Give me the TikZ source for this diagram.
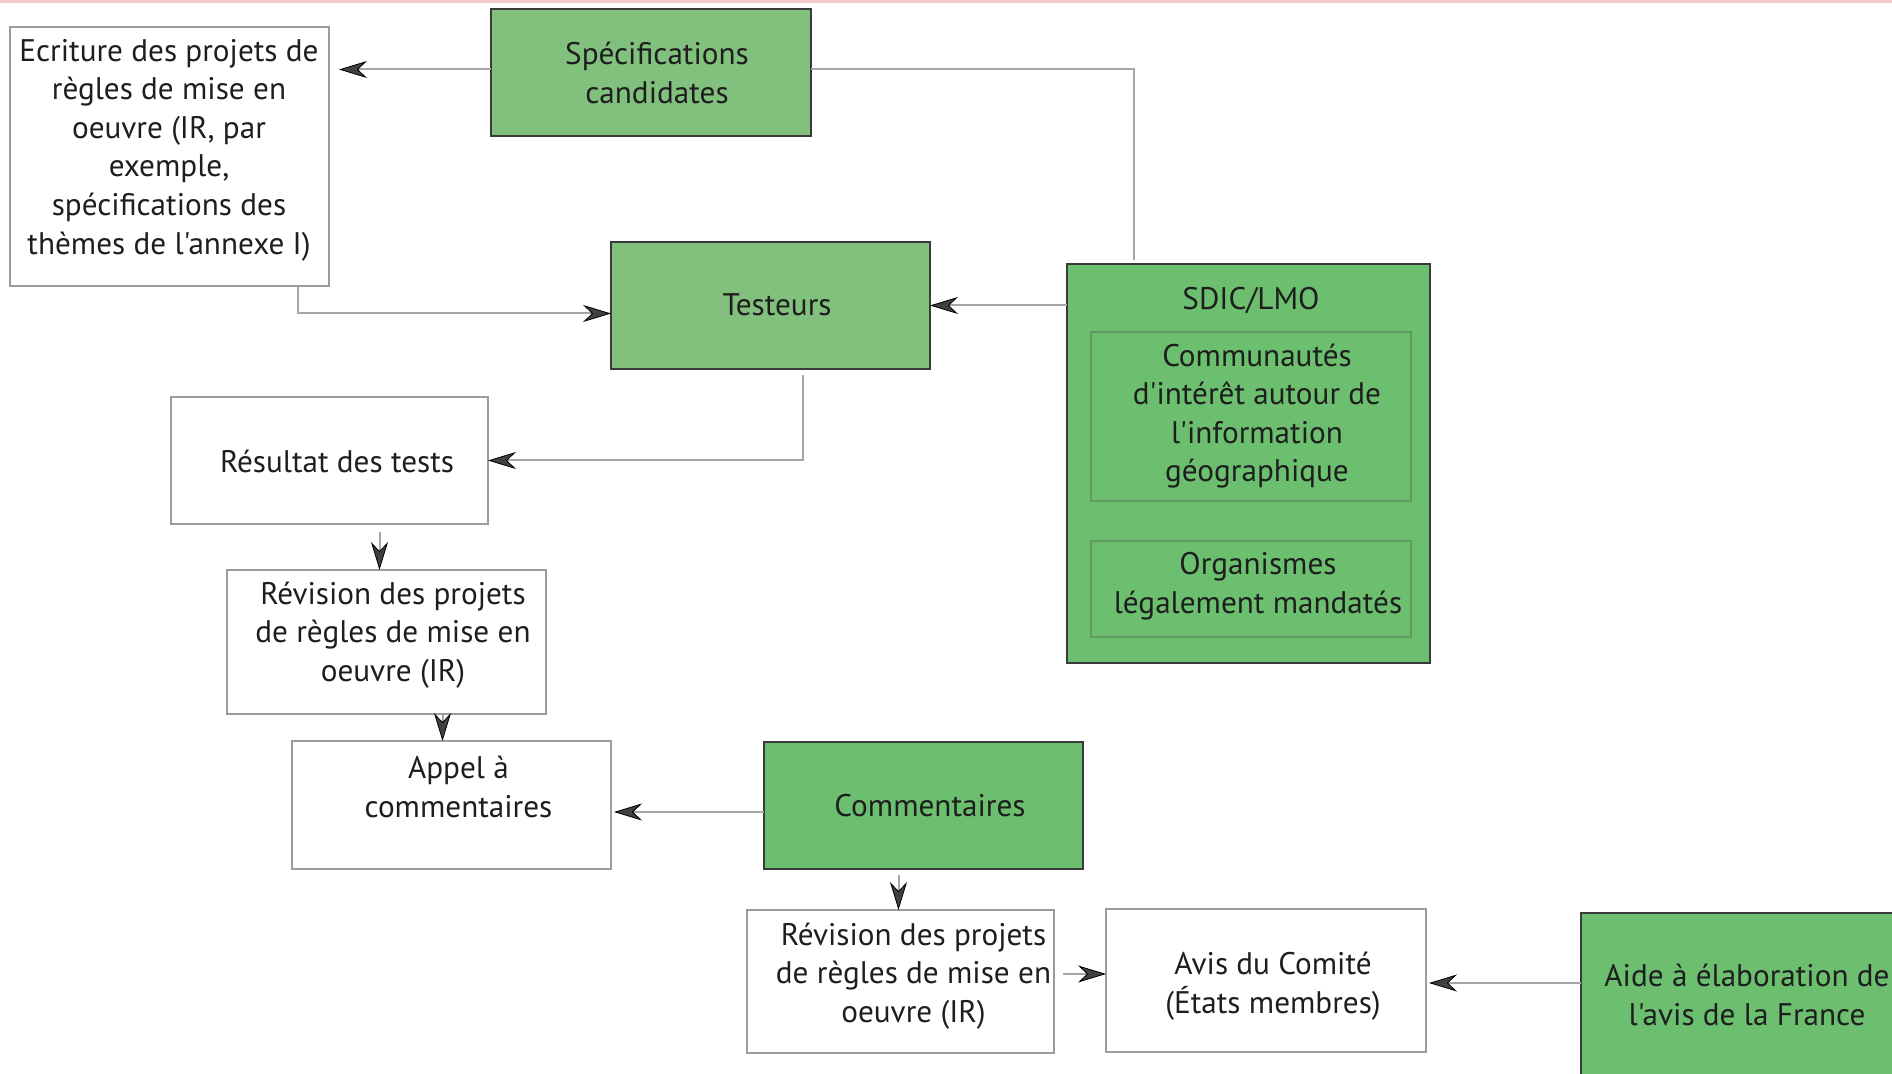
\documentclass[tikz,border=0pt]{standalone}
\usepackage{fontspec}
\setmainfont{PT Sans}[Ligatures=TeXOff]
\usetikzlibrary{arrows.meta,calc}
\definecolor{gA}{HTML}{82C07D}
\definecolor{gB}{HTML}{6BBF6F}
\definecolor{pinkband}{HTML}{F5C8CD}
\definecolor{lineg}{HTML}{A6A6A6}
\definecolor{boxg}{HTML}{9C9C9C}
\definecolor{darkb}{HTML}{3A3A3A}
\definecolor{innerb}{HTML}{5E9A62}
\definecolor{txtc}{HTML}{1E1E1E}
\begin{document}
\begin{tikzpicture}[x=0.5pt,y=-0.5pt,
 wbox/.style={draw=boxg,line width=0.75pt,fill=white,inner sep=0pt,outer sep=0pt},
 gboxA/.style={draw=darkb,line width=0.75pt,fill=gA,inner sep=0pt,outer sep=0pt},
 gboxB/.style={draw=darkb,line width=0.75pt,fill=gB,inner sep=0pt,outer sep=0pt},
 ibox/.style={draw=innerb,line width=0.6pt,inner sep=0pt,outer sep=0pt},
 txt/.style={align=center,inner sep=0pt,font=\fontsize{15.6}{19.3}\selectfont,text=txtc},
 conn/.style={draw=lineg,line width=1pt},
 arr/.style={conn,-{Stealth[length=14pt,width=8.5pt,inset=4.5pt,color=black,fill=black!75,line width=0.4pt]}}
]
\useasboundingbox (0,0) rectangle (1892,1074);
\fill[white] (0,0) rectangle (1892,1074);
\fill[pinkband] (0,0) rectangle (1892,3);

% boxes
\node[wbox,minimum width=159.5pt,minimum height=129.5pt] (ecr) at (169.5,156.5) {};
\node[gboxA,minimum width=160pt,minimum height=63.5pt] (spec) at (651,72.5) {};
\node[gboxA,minimum width=159.5pt,minimum height=63.5pt] (test) at (770.5,305.5) {};
\node[gboxB,minimum width=181.5pt,minimum height=199.5pt] (sdic) at (1248.5,463.5) {};
\node[ibox,minimum width=160pt,minimum height=84.5pt] (in1) at (1251,416.5) {};
\node[ibox,minimum width=160pt,minimum height=48pt] (in2) at (1251,589) {};
\node[wbox,minimum width=158.5pt,minimum height=63.5pt] (res) at (329.5,460.5) {};
\node[wbox,minimum width=159.5pt,minimum height=72pt] (rev1) at (386.5,642) {};
\node[wbox,minimum width=159.5pt,minimum height=64pt] (appel) at (451.5,805) {};
\node[gboxB,minimum width=159.5pt,minimum height=63.5pt] (comm) at (923.5,805.5) {};
\node[wbox,minimum width=153.5pt,minimum height=71.5pt] (rev2) at (900.5,981.5) {};
\node[wbox,minimum width=160pt,minimum height=71.5pt] (avis) at (1266,980.5) {};
\node[gboxB,minimum width=159.5pt,minimum height=86pt] (aide) at (1740.5,999) {};

% texts
\node[txt] (ecr-t) at (169,150) {Ecriture des projets de\\règles de mise en\\oeuvre (IR, par\\exemple,\\spécifications des\\thèmes de l'annexe I)};
\node[txt] (spec-t) at (657,73) {Spécifications\\candidates};
\node[txt] (test-t) at (777,305) {Testeurs};
\node[txt] (sdic-t) at (1251,301) {SDIC/LMO};
\node[txt] (in1-t) at (1257,416) {Communautés\\d'intérêt autour de\\l'information\\géographique};
\node[txt] (in2-t) at (1258,586) {Organismes\\légalement mandatés};
\node[txt] (res-t) at (337,461) {Résultat des tests};
\node[txt] (rev1-t) at (393,635) {Révision des projets\\de règles de mise en\\oeuvre (IR)};
\node[txt] (appel-t) at (458.5,787) {Appel à\\commentaires};
\node[txt] (comm-t) at (930,806) {Commentaires};
\node[txt] (rev2-t) at (913.5,976) {Révision des projets\\de règles de mise en\\oeuvre (IR)};
\node[txt] (avis-t) at (1273,986) {Avis du Comité\\(États membres)};
\node[txt] (aide-t) at (1747,995) {Aide à élaboration de\\l'avis de la France};

% connectors
\coordinate (c1) at ($(spec.west)+(0,-3)$);
\draw[arr] (c1) -- ($(c1 -| ecr.east)+(10,0)$);
\coordinate (c2) at ($(spec.east)+(0,-3)$);
\coordinate (c2e) at ($(sdic.north)+(-114.5,-4)$);
\draw[conn] (c2) -| (c2e);
\coordinate (c3) at ($(ecr.south)+(128,0)$);
\coordinate (c3e) at ($(test.west)+(0,8)$);
\draw[arr] (c3) |- (c3e);
\draw[arr] (sdic.west |- test.east) -- (test.east);
\coordinate (c5) at ($(test.south)+(32.5,6)$);
\draw[arr] (c5) |- (res.east);
\coordinate (c6) at ($(res.south)+(50,8)$);
\draw[arr] (c6) -- (c6 |- rev1.north);
\coordinate (c7) at ($(rev1.south)+(56,0)$);
\draw[arr] (c7) -- (c7 |- appel.north);
\coordinate (c8) at ($(comm.west)+(0,6.5)$);
\draw[arr] (c8) -- ($(c8 -| appel.east)+(3,0)$);
\coordinate (c9) at ($(comm.south)+(-25,6)$);
\draw[arr] (c9) -- (c9 |- rev2.north);
\coordinate (c10) at ($(rev2.east)+(9,-7.5)$);
\draw[arr] (c10) -- (c10 -| avis.west);
\coordinate (c11) at ($(aide.west)+(0,-16)$);
\draw[arr] (c11) -- ($(c11 -| avis.east)+(3,0)$);
\end{tikzpicture}
\end{document}
